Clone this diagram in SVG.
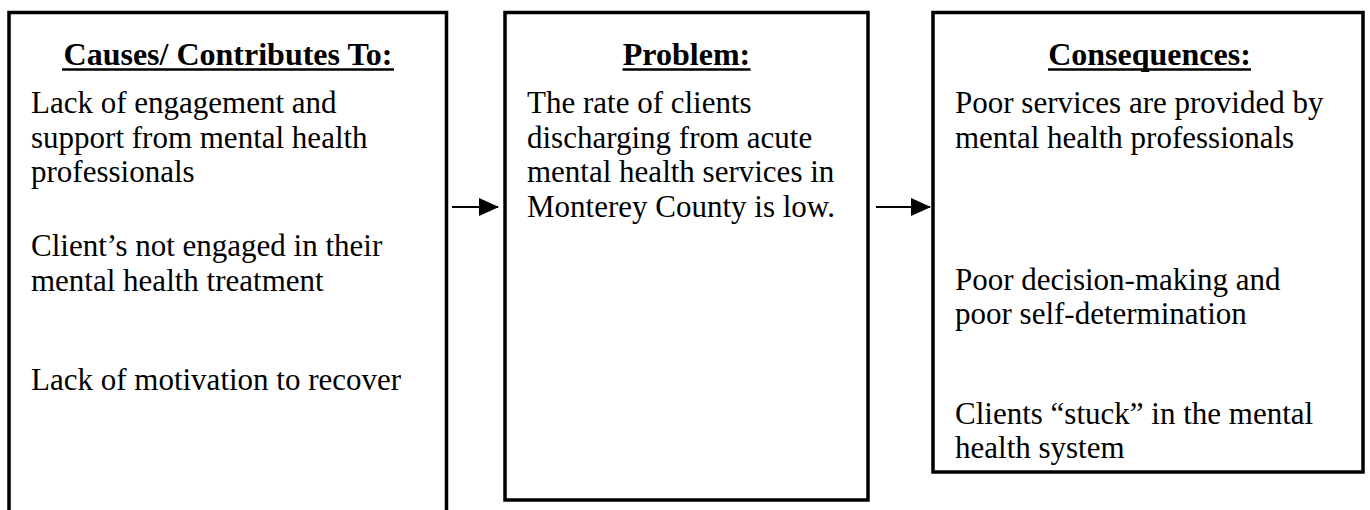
<svg xmlns="http://www.w3.org/2000/svg" width="1370" height="510" viewBox="0 0 1370 510">
<defs>
<style>
.box{fill:#fff;stroke:#000;stroke-width:3.5}
.h{font-family:"Liberation Serif","Times New Roman",serif;font-size:32px;font-weight:bold;fill:#000;text-anchor:middle}
.t{font-family:"Liberation Serif","Times New Roman",serif;font-size:31px;fill:#000}
.ul{stroke:#000;stroke-width:2.5}
.conn{stroke:#000;stroke-width:2.2;fill:none}
</style>
<marker id="ah" markerWidth="20" markerHeight="18" refX="19" refY="9" orient="auto" markerUnits="userSpaceOnUse" viewBox="0 0 20 18">
<path d="M0,0 L20,9 L0,18 Z" fill="#000"/>
</marker>
</defs>
<rect width="1370" height="510" fill="#fff"/>
<g id="causes">
<rect class="box" x="9" y="12.5" width="437.5" height="520"/>
<text class="h" x="228" y="65">Causes/ Contributes To:</text>
<line class="ul" x1="62" y1="69.5" x2="394" y2="69.5"/>
<text class="t" x="31" y="113">Lack of engagement and</text>
<text class="t" x="31" y="147.5">support from mental health</text>
<text class="t" x="31" y="182">professionals</text>
<text class="t" x="31" y="256">Client’s not engaged in their</text>
<text class="t" x="31" y="290.5">mental health treatment</text>
<text class="t" x="31" y="390">Lack of motivation to recover</text>
</g>
<g id="problem">
<rect class="box" x="505" y="12.5" width="363" height="487.5"/>
<text class="h" x="686.5" y="65">Problem:</text>
<line class="ul" x1="622.5" y1="69.5" x2="750.5" y2="69.5"/>
<text class="t" x="527" y="113">The rate of clients</text>
<text class="t" x="527" y="147.5">discharging from acute</text>
<text class="t" x="527" y="182">mental health services in</text>
<text class="t" x="527" y="216.5">Monterey County is low.</text>
</g>
<g id="consequences">
<rect class="box" x="933" y="12.5" width="430" height="459.5"/>
<text class="h" x="1149.5" y="65">Consequences:</text>
<line class="ul" x1="1048" y1="69.5" x2="1251" y2="69.5"/>
<text class="t" x="955" y="113">Poor services are provided by</text>
<text class="t" x="955" y="147.5">mental health professionals</text>
<text class="t" x="955" y="290">Poor decision-making and</text>
<text class="t" x="955" y="324">poor self-determination</text>
<text class="t" x="955" y="424">Clients “stuck” in the mental</text>
<text class="t" x="955" y="458">health system</text>
</g>
<g id="connectors">
<line class="conn" x1="452" y1="207" x2="498" y2="207" marker-end="url(#ah)"/>
<line class="conn" x1="876" y1="207" x2="930" y2="207" marker-end="url(#ah)"/>
</g>
</svg>
